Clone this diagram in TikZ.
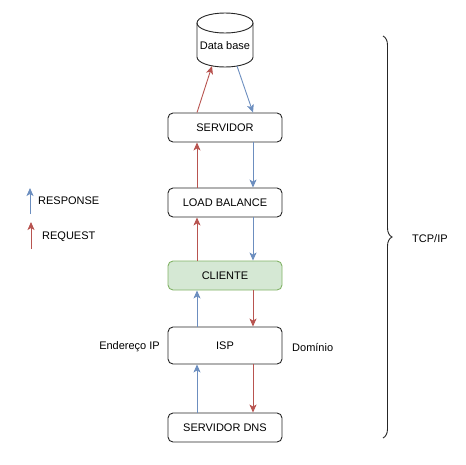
\documentclass[tikz,border=0pt]{standalone}
\usepackage{fontspec}
\setmainfont{Liberation Sans}
\usetikzlibrary{arrows.meta,decorations.pathreplacing,calc}
\definecolor{reqc}{HTML}{B85450}
\definecolor{resc}{HTML}{6C8EBF}
\definecolor{cgfill}{HTML}{D5E8D4}
\definecolor{cgline}{HTML}{82B366}
\begin{document}
\begin{tikzpicture}[x=1pt,y=-1pt,
  font=\fontsize{11}{13}\selectfont,
  box/.style={draw=black!85, line width=0.9pt, rounded corners=5pt, minimum width=114pt, minimum height=29pt, inner sep=0pt},
  req/.style={draw=reqc, line width=0.9pt, -{Stealth[length=8pt,width=7pt,inset=2pt]}},
  res/.style={draw=resc, line width=0.9pt, -{Stealth[length=8pt,width=7pt,inset=2pt]}},
  lbl/.style={inner sep=0pt}]
\useasboundingbox (0,0) rectangle (466,464);
% database cylinder
\draw[line width=0.9pt, draw=black!85, fill=white]
  (197,23) -- (197,57) arc[start angle=180, end angle=0, x radius=28, y radius=10]
  -- (253,23) arc[start angle=0, end angle=-180, x radius=28, y radius=10] -- cycle;
\draw[line width=0.9pt, draw=black!85] (197,23) arc[start angle=180, end angle=0, x radius=28, y radius=10];
\node[lbl] (db) at (225,46) {Data base};
\coordinate (dbin) at (212,66);
\coordinate (dbout) at (237,66);
% boxes
\node[box] (srv) at (225,127.5) {SERVIDOR};
\node[box] (lb) at (225,202.5) {LOAD BALANCE};
\node[box, fill=cgfill, draw=cgline] (cli) at (225,275.5) {CLIENTE};
\node[box, minimum height=37pt] (isp) at (225,345.5) {ISP};
\node[box] (dns) at (225,427.5) {SERVIDOR DNS};
% side labels
\node[lbl, anchor=east] (eip) at (160,347) {Endereço IP};
\node[lbl, anchor=west] (dom) at (292,347) {Domínio};
% request (red) arrows
\draw[req] ([xshift=-28pt]srv.north) -- (dbin);
\draw[req] ([xshift=-28pt]lb.north) -- ([xshift=-28pt]srv.south);
\draw[req] ([xshift=-28pt]cli.north) -- ([xshift=-28pt]lb.south);
\draw[req] ([xshift=28pt]cli.south) -- ([xshift=28pt]isp.north);
\draw[req] ([xshift=28pt]isp.south) -- ([xshift=28pt]dns.north);
% response (blue) arrows
\draw[res] (dbout) -- ([xshift=28pt]srv.north);
\draw[res] ([xshift=28pt]srv.south) -- ([xshift=28pt]lb.north);
\draw[res] ([xshift=28pt]lb.south) -- ([xshift=28pt]cli.north);
\draw[res] ([xshift=-28pt]isp.north) -- ([xshift=-28pt]cli.south);
\draw[res] ([xshift=-28pt]dns.north) -- ([xshift=-28pt]isp.south);
% legend
\coordinate (lr0) at (30,214);
\coordinate (lr1) at (30,188);
\draw[res] (lr0) -- (lr1);
\node[lbl, anchor=west] (lres) at (38,201) {RESPONSE};
\coordinate (lq0) at (31,249);
\coordinate (lq1) at (31,222);
\draw[req] (lq0) -- (lq1);
\node[lbl, anchor=west] (lreq) at (42,237) {REQUEST};
% brace
\coordinate (bt) at (383,36);
\coordinate (bb) at (383,438);
\draw[line width=0.9pt, draw=black!85, decorate, decoration={brace, amplitude=9pt}] (bt) -- (bb);
\node[lbl, anchor=west] (tcp) at (412,239) {TCP/IP};
\end{tikzpicture}
\end{document}
